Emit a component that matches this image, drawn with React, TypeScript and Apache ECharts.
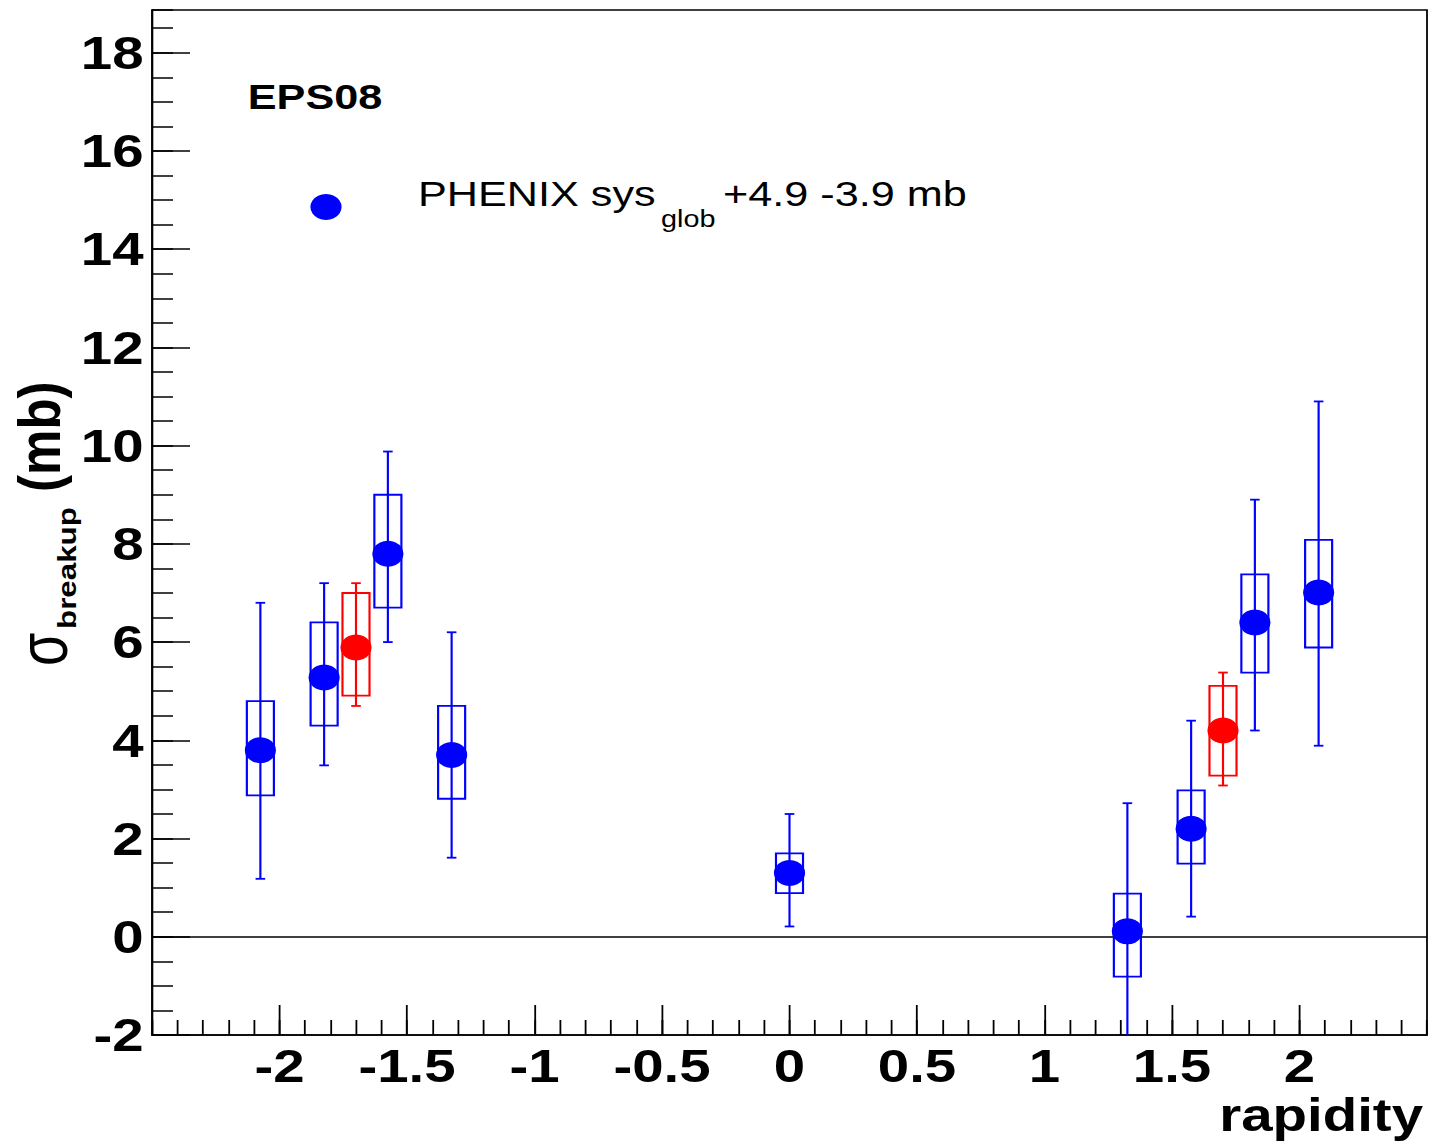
import React, { useEffect, useRef } from "react";
import * as echarts from "echarts";

// ---------- data ----------
const blueRapidity = [-2.075, -1.825, -1.575, -1.325, 0, 1.325, 1.575, 1.825, 2.075];
const blueSigma = [3.8, 5.28, 7.8, 3.7, 1.3, 0.11, 2.2, 6.4, 7.01];
const blueStatHigh = [6.8, 7.2, 9.88, 6.2, 2.5, 2.72, 4.4, 8.9, 10.9];
const blueStatLow = [1.18, 3.49, 6.0, 1.61, 0.21, -2.5, 0.41, 4.2, 3.89];
const blueSysHigh = [4.8, 6.4, 9.0, 4.7, 1.7, 0.88, 2.98, 7.38, 8.08];
const blueSysLow = [2.88, 4.3, 6.7, 2.81, 0.89, -0.81, 1.49, 5.38, 5.89];

const redRapidity = [-1.7, 1.7];
const redSigma = [5.89, 4.2];
const redStatHigh = [7.2, 5.38];
const redStatLow = [4.7, 3.08];
const redSysHigh = [7.0, 5.11];
const redSysLow = [4.91, 3.28];

const xMin = -2.5;
const xMax = 2.5;
const xMajorStep = 0.5;
const xMinorStep = 0.1;
const yMin = -2;
const yMax = 18.87;
const yMajorStep = 2;
const yMinorStep = 0.5;

const xTitle = "rapidity";
const plotLabel = "EPS08";
const legendMain = "PHENIX sys";
const legendSub = "glob";
const legendTail = "+4.9 -3.9 mb";

// ---------- layout ----------
const STRETCH = 1.2;
const WIDTH = 1430;
const HEIGHT = 1144;
const INNER_W = WIDTH / STRETCH;
const BOX_HALF = 0.053; // rapidity units
const CAP = 4;
const FONT = "'Liberation Sans', Arial, Helvetica, sans-serif";
const BLUE = "#0000ff";
const RED = "#ff0000";

function zip(x: number[], y: number[], a: number[], b: number[], c: number[], d: number[]) {
  return x.map((v, i) => [v, y[i], a[i], b[i], c[i], d[i]]);
}

function makeRenderItem(color: string) {
  return (params: any, api: any) => {
    const x = api.value(0);
    const pc = api.coord([x, api.value(1)]);
    const ph = api.coord([x, api.value(2)]);
    const pl = api.coord([x, api.value(3)]);
    const bTL = api.coord([x - BOX_HALF, api.value(4)]);
    const bBR = api.coord([x + BOX_HALF, api.value(5)]);
    const st = { stroke: color, lineWidth: 1.8, fill: null };
    return {
      type: "group",
      children: [
        {
          type: "rect",
          shape: { x: bTL[0], y: bTL[1], width: bBR[0] - bTL[0], height: bBR[1] - bTL[1] },
          style: { stroke: color, lineWidth: 1.8, fill: "transparent" },
        },
        { type: "line", shape: { x1: pc[0], y1: ph[1], x2: pc[0], y2: pl[1] }, style: st },
        { type: "line", shape: { x1: pc[0] - CAP, y1: ph[1], x2: pc[0] + CAP, y2: ph[1] }, style: st },
        { type: "line", shape: { x1: pc[0] - CAP, y1: pl[1], x2: pc[0] + CAP, y2: pl[1] }, style: st },
      ],
    };
  };
}

const tickLine = { color: "#000", width: 1.5 };

function txt(x: number, y: number, text: string, size: number, weight: string, extra: any = {}) {
  const align = extra.align || "left";
  const valign = extra.valign || "top";
  return {
    type: "text",
    x,
    y,
    rotation: extra.rotation || 0,
    scaleX: extra.scaleX || 1,
    scaleY: extra.scaleY || 1,
    z: 20,
    style: {
      text,
      fontSize: size,
      fontWeight: weight,
      fontFamily: FONT,
      fill: "#000",
      align,
      verticalAlign: valign,
      textAlign: align,
      textVerticalAlign: valign,
    },
  };
}

function buildOption() {
  const labelStyle = {
    fontSize: 47,
    fontWeight: "bold",
    fontFamily: FONT,
    color: "#000",
  };
  return {
    animation: false,
    backgroundColor: "#ffffff",
    grid: {
      left: 152 / STRETCH,
      right: 3 / STRETCH,
      top: 10,
      bottom: 109,
      show: true,
      borderColor: "#000",
      borderWidth: 1.5,
      containLabel: false,
    },
    xAxis: [
      {
        type: "value",
        min: xMin,
        max: xMax,
        interval: xMajorStep,
        position: "bottom",
        axisLine: { show: true, onZero: false, lineStyle: tickLine },
        axisTick: { show: true, inside: true, length: 30, lineStyle: tickLine },
        axisLabel: { ...labelStyle, margin: 7, showMinLabel: false, showMaxLabel: false },
        splitLine: { show: false },
      },
      {
        type: "value",
        min: xMin,
        max: xMax,
        interval: xMinorStep,
        position: "bottom",
        axisLine: { show: false, onZero: false },
        axisTick: { show: true, inside: true, length: 15, lineStyle: tickLine },
        axisLabel: { show: false },
        splitLine: { show: false },
      },
    ],
    yAxis: [
      {
        type: "value",
        min: yMin,
        max: yMax,
        interval: yMajorStep,
        position: "left",
        axisLine: { show: true, onZero: false, lineStyle: tickLine },
        axisTick: { show: true, inside: true, length: 38 / STRETCH, lineStyle: tickLine },
        axisLabel: { ...labelStyle, margin: 7, padding: [16, 0, 0, 0], showMaxLabel: false },
        splitLine: { show: false },
      },
      {
        type: "value",
        min: yMin,
        max: yMax,
        interval: yMinorStep,
        position: "left",
        axisLine: { show: false, onZero: false },
        axisTick: { show: true, inside: true, length: 21 / STRETCH, lineStyle: tickLine },
        axisLabel: { show: false },
        splitLine: { show: false },
      },
    ],
    series: [
      {
        type: "line",
        data: [],
        xAxisIndex: 0,
        yAxisIndex: 0,
        silent: true,
        markLine: {
          silent: true,
          z: 1,
          symbol: ["none", "none"],
          label: { show: false },
          lineStyle: { color: "#000", width: 1.5, type: "solid" },
          data: [{ yAxis: 0 }],
        },
      },
      {
        type: "custom",
        name: "PHENIX sys",
        xAxisIndex: 0,
        yAxisIndex: 0,
        clip: true,
        z: 2,
        encode: { x: 0, y: 1 },
        renderItem: makeRenderItem(BLUE),
        data: zip(blueRapidity, blueSigma, blueStatHigh, blueStatLow, blueSysHigh, blueSysLow),
      },
      {
        type: "custom",
        name: "EPS08 reflected",
        xAxisIndex: 0,
        yAxisIndex: 0,
        clip: true,
        z: 2,
        encode: { x: 0, y: 1 },
        renderItem: makeRenderItem(RED),
        data: zip(redRapidity, redSigma, redStatHigh, redStatLow, redSysHigh, redSysLow),
      },
      {
        type: "scatter",
        name: "PHENIX",
        xAxisIndex: 0,
        yAxisIndex: 0,
        z: 3,
        symbol: "circle",
        symbolSize: 26,
        itemStyle: { color: BLUE, opacity: 1 },
        data: blueRapidity.map((x, i) => [x, blueSigma[i]]),
      },
      {
        type: "scatter",
        name: "red",
        xAxisIndex: 0,
        yAxisIndex: 0,
        z: 3,
        symbol: "circle",
        symbolSize: 26,
        itemStyle: { color: RED, opacity: 1 },
        data: redRapidity.map((x, i) => [x, redSigma[i]]),
      },
    ],
    graphic: [
      txt(206.5, 78.6, plotLabel, 36, "bold"),
      {
        type: "circle",
        x: 326 / STRETCH,
        y: 207,
        z: 20,
        shape: { cx: 0, cy: 0, r: 13 },
        style: { fill: BLUE },
      },
      txt(418 / STRETCH, 175.3, legendMain, 36, "normal"),
      txt(661 / STRETCH, 207, legendSub, 24, "normal"),
      txt(723 / STRETCH, 175.3, legendTail, 36, "normal"),
      txt(1423 / STRETCH, 1091, xTitle, 47, "bold", { align: "right" }),
      // y-axis title: sigma_breakup (mb), rotated
      txt(34.8, 666, "σ", 54, "normal", { rotation: Math.PI / 2, valign: "middle", scaleX: 1.0, scaleY: 1.1 }),
      txt(56, 629, "breakup", 26, "bold", { rotation: Math.PI / 2, valign: "middle", scaleX: 1.206, scaleY: 0.85 }),
      txt(32.8, 492, "(mb)", 46, "bold", { rotation: Math.PI / 2, valign: "middle", scaleX: 1.11, scaleY: 1.06 }),
    ],
  };
}

export default function App() {
  const ref = useRef<HTMLDivElement>(null);
  useEffect(() => {
    if (!ref.current) return;
    const chart = echarts.init(ref.current, null, { renderer: "svg", width: INNER_W, height: HEIGHT });
    chart.setOption(buildOption() as any);
    return () => {
      chart.dispose();
    };
  }, []);
  return (
    <div
      ref={ref}
      style={{
        position: "absolute",
        left: 0,
        top: 0,
        width: INNER_W,
        height: HEIGHT,
        transform: `scaleX(${STRETCH})`,
        transformOrigin: "0 0",
        background: "#fff",
      }}
    />
  );
}
